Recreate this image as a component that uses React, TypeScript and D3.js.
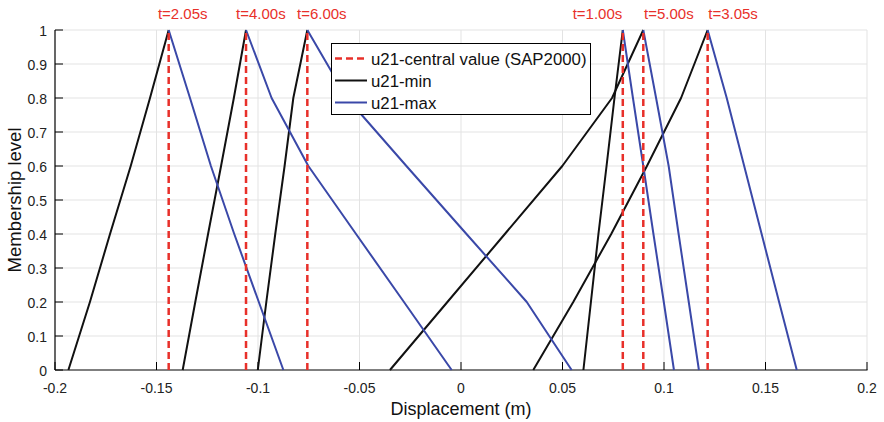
import React from "react";
import * as d3 from "d3";

const levels = [0, 0.2, 0.4, 0.6, 0.8, 1];
const timeLabels = ["t=2.05s", "t=4.00s", "t=6.00s", "t=1.00s", "t=5.00s", "t=3.05s"];
const timeLabelX = [-0.1493, -0.1108, -0.0808, 0.055, 0.0902, 0.1218];
const centralValues = [-0.144, -0.1059, -0.0757, 0.0797, 0.0898, 0.1215];
const minSeries = [
  [-0.1934, -0.1828, -0.1729, -0.1627, -0.1532, -0.144],
  [-0.1371, -0.1309, -0.1246, -0.1182, -0.1119, -0.1059],
  [-0.1001, -0.0959, -0.0915, -0.0869, -0.0826, -0.0757],
  [0.0603, 0.064, 0.0677, 0.0717, 0.0756, 0.0797],
  [-0.035, -0.0067, 0.0216, 0.0499, 0.0744, 0.0898],
  [0.0356, 0.0553, 0.074, 0.0916, 0.1084, 0.1215],
];
const maxSeries = [
  [-0.0875, -0.0996, -0.1117, -0.1232, -0.1335, -0.144],
  [-0.0046, -0.0281, -0.0517, -0.0752, -0.0933, -0.1059],
  [0.0545, 0.0324, 0.0027, -0.0269, -0.0562, -0.0757],
  [0.1049, 0.0999, 0.0948, 0.0898, 0.0847, 0.0797],
  [0.1172, 0.1122, 0.1072, 0.1023, 0.0961, 0.0898],
  [0.1654, 0.1567, 0.1481, 0.1395, 0.1309, 0.1215],
];
const xTicks = [-0.2, -0.15, -0.1, -0.05, 0, 0.05, 0.1, 0.15, 0.2];
const xTickLabels = ["-0.2", "-0.15", "-0.1", "-0.05", "0", "0.05", "0.1", "0.15", "0.2"];
const yTicks = [0, 0.1, 0.2, 0.3, 0.4, 0.5, 0.6, 0.7, 0.8, 0.9, 1];
const yTickLabels = ["0", "0.1", "0.2", "0.3", "0.4", "0.5", "0.6", "0.7", "0.8", "0.9", "1"];
const legendLabels = ["u21-central value (SAP2000)", "u21-min", "u21-max"];

const W = 884, H = 422;
const L = 55, R = 867, T = 30, B = 370;
const FONT = "'Liberation Sans', Arial, Helvetica, sans-serif";
const RED = "#e8302a";
const BLUE = "#3a48a8";
const BLACK = "#111111";

export default function App() {
  const x = d3.scaleLinear().domain([-0.2, 0.2]).range([L, R]);
  const y = d3.scaleLinear().domain([0, 1]).range([B, T]);
  const line = d3
    .line<[number, number]>()
    .x((d) => x(d[0]))
    .y((d) => y(d[1]));
  const mk = (arr: number[]) => line(arr.map((v, i) => [v, levels[i]] as [number, number])) || "";

  return (
    <svg
      width={W}
      height={H}
      style={{ position: "absolute", left: 0, top: 0, background: "#fff" }}
      fontFamily={FONT}
    >
      <rect x={0} y={0} width={W} height={H} fill="#fff" />
      {/* grid */}
      {xTicks.slice(1).map((t, i) => (
        <line key={"gx" + i} x1={x(t)} x2={x(t)} y1={T} y2={B} stroke="#e3e3e3" strokeWidth={1} />
      ))}
      {yTicks.slice(1).map((t, i) => (
        <line key={"gy" + i} x1={L} x2={R} y1={y(t)} y2={y(t)} stroke="#e3e3e3" strokeWidth={1} />
      ))}
      {/* axes */}
      <line x1={L} x2={R + 0.5} y1={B} y2={B} stroke="#000" strokeWidth={1.2} />
      <line x1={L} x2={L} y1={T} y2={B} stroke="#000" strokeWidth={1.2} />
      {xTicks.map((t, i) => (
        <g key={"xt" + i}>
          <line x1={x(t)} x2={x(t)} y1={B} y2={B - 8} stroke="#000" strokeWidth={1} />
          <text x={x(t)} y={B + 22.5} fontSize={14} textAnchor="middle" fill="#222">
            {xTickLabels[i]}
          </text>
        </g>
      ))}
      {yTicks.map((t, i) => (
        <g key={"yt" + i}>
          <line x1={L} x2={L + 8} y1={y(t)} y2={y(t)} stroke="#000" strokeWidth={1} />
          <text x={L - 8} y={y(t) + 5.5} fontSize={14} textAnchor="end" fill="#222">
            {yTickLabels[i]}
          </text>
        </g>
      ))}
      {/* series */}
      {minSeries.map((s, i) => (
        <path key={"mn" + i} d={mk(s)} fill="none" stroke={BLACK} strokeWidth={2} strokeLinejoin="round" />
      ))}
      {maxSeries.map((s, i) => (
        <path key={"mx" + i} d={mk(s)} fill="none" stroke={BLUE} strokeWidth={2} strokeLinejoin="round" />
      ))}
      {centralValues.map((c, i) => (
        <g key={"cv" + i}>
          <line x1={x(c)} x2={x(c)} y1={y(0)} y2={y(1)} stroke={RED} strokeWidth={2.5} strokeDasharray="7,4" />
          <text x={x(timeLabelX[i])} y={19} fontSize={15} fill={RED}>
            {timeLabels[i]}
          </text>
        </g>
      ))}
      {/* legend */}
      <rect x={331.5} y={43.5} width={259} height={71} fill="#fff" stroke="#000" strokeWidth={1} />
      {legendLabels.map((lab, i) => {
        const yy = 58.5 + i * 22;
        const color = i === 0 ? RED : i === 1 ? BLACK : BLUE;
        return (
          <g key={"lg" + i}>
            <line
              x1={335}
              x2={367}
              y1={yy}
              y2={yy}
              stroke={color}
              strokeWidth={i === 0 ? 2.5 : 2}
              strokeDasharray={i === 0 ? "7,4" : undefined}
            />
            <text x={371} y={yy + 6} fontSize={16.8} fill="#111">
              {lab}
            </text>
          </g>
        );
      })}
      {/* axis labels */}
      <text x={(L + R) / 2} y={415} fontSize={18} textAnchor="middle" fill="#111">
        Displacement (m)
      </text>
      <text
        transform={`translate(20.5, ${(T + B) / 2}) rotate(-90)`}
        fontSize={18.5}
        textAnchor="middle"
        fill="#111"
      >
        Membership level
      </text>
    </svg>
  );
}
